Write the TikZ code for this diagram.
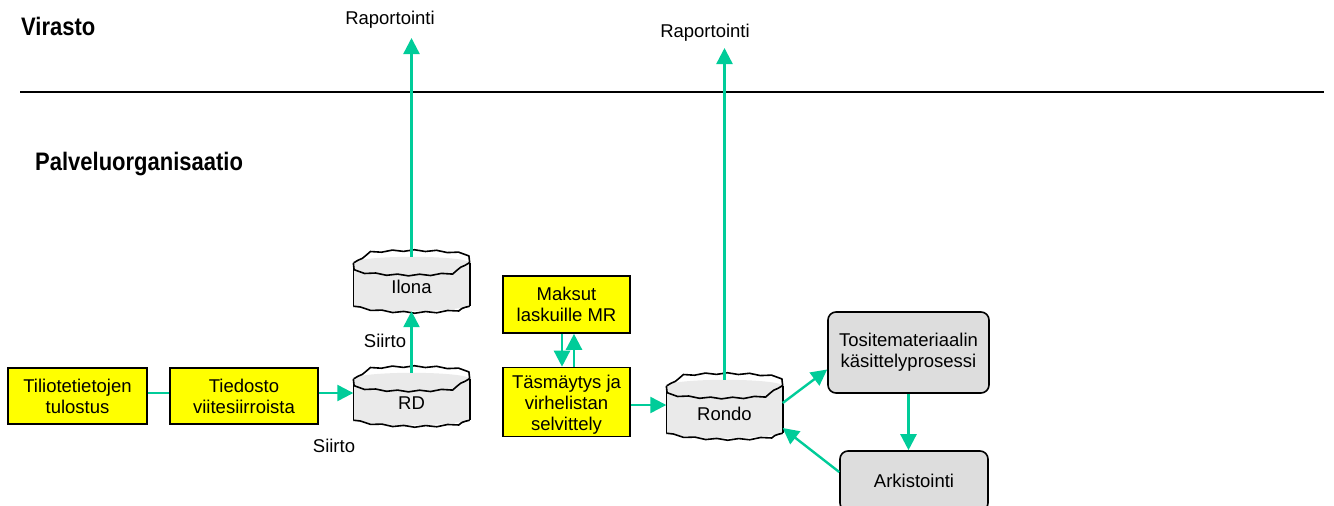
\documentclass[tikz,border=0pt]{standalone}
\usepackage{fontspec}
\setmainfont{Liberation Sans}
\usetikzlibrary{arrows.meta,decorations.pathmorphing,backgrounds}
\definecolor{grn}{RGB}{0,204,153}
\definecolor{ylw}{RGB}{255,255,0}
\definecolor{cylgray}{RGB}{234,234,234}
\definecolor{boxgray}{RGB}{221,221,221}
\tikzset{
 base/.style={font=\fontsize{18.5}{21}\selectfont, align=center, inner sep=0pt},
 ybox/.style={base, draw=black, line width=1.6pt, fill=ylw},
 gbox/.style={base, draw=black, line width=1.6pt, fill=boxgray, rounded corners=8pt},
 cylnode/.style={base, minimum width=116pt},
 flow/.style={draw=grn, line width=2.4pt, -{Triangle[length=16pt,width=16pt]}},
 plainflow/.style={draw=grn, line width=2.4pt},
 cylline/.style={draw=black, line width=1.6pt},
 wavy/.style={decorate, decoration={snake, segment length=22pt, amplitude=0.8pt}},
 hdr/.style={font=\fontsize{22}{26}\selectfont\bfseries, inner sep=0pt, anchor=west},
 lbl/.style={font=\fontsize{18.5}{21}\selectfont, inner sep=0pt},
}
\newcommand\cylout[1]{%
 \begin{pgfonlayer}{background}
 \fill[cylgray] ([yshift=-6pt]#1.north west) -- ([yshift=5pt]#1.south west)
   .. controls ([xshift=29pt,yshift=-1.7pt]#1.south west) and ([xshift=-29pt,yshift=-1.7pt]#1.south east) .. ([yshift=5pt]#1.south east)
   -- ([yshift=-6pt]#1.north east) arc[start angle=0,end angle=180,x radius=58pt,y radius=6pt] -- cycle;
 \draw[cylline] ([yshift=-6pt]#1.north west) -- ([yshift=5pt]#1.south west);
 \draw[cylline] ([yshift=-6pt]#1.north east) -- ([yshift=5pt]#1.south east);
 \draw[cylline,wavy] ([yshift=5pt]#1.south west)
   .. controls ([xshift=29pt,yshift=-1.7pt]#1.south west) and ([xshift=-29pt,yshift=-1.7pt]#1.south east) .. ([yshift=5pt]#1.south east);
 \draw[cylline,wavy] ([yshift=-6pt]#1.north east) arc[start angle=0,end angle=180,x radius=58pt,y radius=6pt];
 \draw[cylline,wavy] ([yshift=-6pt]#1.north west) arc[start angle=180,end angle=360,x radius=58pt,y radius=6pt];
 \end{pgfonlayer}}
\begin{document}
\begin{tikzpicture}[x=1pt,y=-1pt]
\clip (0,0) rectangle (1334,506);
\useasboundingbox (0,0) rectangle (1334,506);
% headers and separator
\node[hdr] (virasto) at (21,26) {\scalebox{1}[1.15]{Virasto}};
\node[hdr] (palvelu) at (35,164) {\scalebox{1}[1.15]{Palveluorganisaatio}};
\coordinate (sepL) at (20,92);
\coordinate (sepR) at (1324,92);
\draw[line width=1.5pt] (sepL) -- (sepR);
% nodes
\node[ybox, minimum width=139pt, minimum height=56pt] (tilio) at (77.5,396) {Tiliotetietojen\\tulostus};
\node[ybox, minimum width=148pt, minimum height=56pt] (tiedosto) at (244,396) {Tiedosto\\viitesiirroista};
\node[cylnode, minimum height=54pt] (ilona) at (411.5,284) {\raisebox{-3pt}[\height][\depth]{Ilona}};
\cylout{ilona}
\node[cylnode, minimum height=52pt] (rd) at (411.5,399) {\raisebox{-4pt}[\height][\depth]{RD}};
\cylout{rd}
\node[ybox, minimum width=127pt, minimum height=57pt] (maksut) at (566.5,304.5) {Maksut\\laskuille MR};
\node[ybox, minimum width=127pt, minimum height=69pt] (tasma) at (566.5,402) {\raisebox{-3pt}[\height][\depth]{\begin{tabular}{@{}c@{}}Täsmäytys ja\\virhelistan\\selvittely\end{tabular}}};
\node[cylnode, minimum height=58pt] (rondo) at (724.5,409) {\raisebox{-5pt}[\height][\depth]{Rondo}};
\cylout{rondo}
\node[gbox, minimum width=161pt, minimum height=81pt] (tosite) at (908.5,352.5) {Tositemateriaalin\\käsittelyprosessi};
\node[gbox, minimum width=148pt, minimum height=60pt] (arkist) at (914,481) {Arkistointi};
% labels
\node[lbl] (rap1) at (390,20) {Raportointi};
\node[lbl] (rap2) at (705,33) {Raportointi};
\node[lbl] (siirto1) at (385,341) {Siirto};
\node[lbl] (siirto2) at (334,446) {Siirto};
\coordinate (rap1end) at (411.5,38);
\coordinate (rap2end) at (724.5,48);
% connectors
\draw[plainflow] ([yshift=3pt]tilio.east) -- ([yshift=3pt]tiedosto.west);
\draw[flow] ([yshift=3pt]tiedosto.east) -- ([yshift=6pt]rd.west);
\draw[flow] (rd.north) -- (ilona.south);
\draw[flow] (ilona.north) -- (rap1end);
\draw[flow] ([xshift=-4.5pt]maksut.south) -- ([xshift=-4.5pt]tasma.north);
\draw[flow] ([xshift=7.5pt]tasma.north) -- ([xshift=7.5pt]maksut.south);
\draw[flow] ([yshift=-3pt]tasma.east) -- ([yshift=4pt]rondo.west);
\draw[flow] (rondo.north) -- (rap2end);
\draw[flow] ([yshift=6pt]rondo.east) -- ([yshift=-17pt]tosite.west);
\draw[flow] (tosite.south) -- (tosite.south |- arkist.north);
\draw[flow] ([yshift=9pt]arkist.west) -- ([yshift=-19pt]rondo.east);
\end{tikzpicture}
\end{document}
